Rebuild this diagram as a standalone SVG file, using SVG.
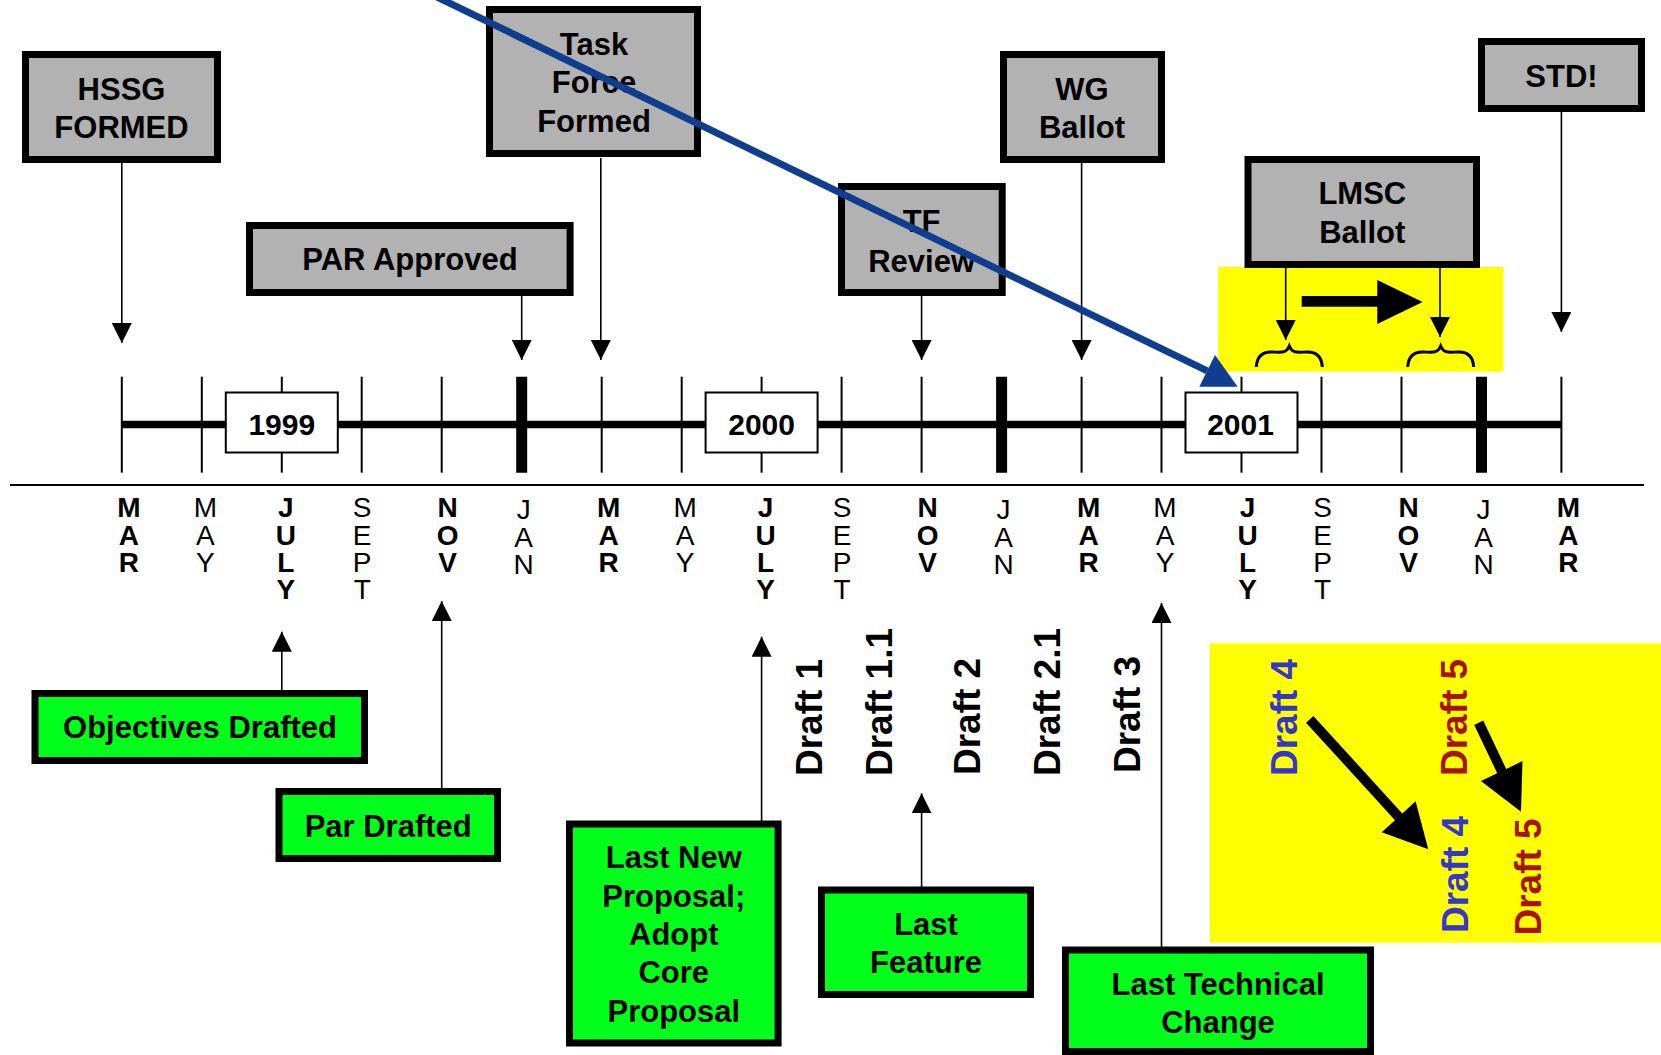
<svg xmlns="http://www.w3.org/2000/svg" width="1661" height="1055" viewBox="0 0 1661 1055">
<style>
.box{fill:#b2b2b2;stroke:#000;stroke-width:7}
.gbox{fill:#00ff1a;stroke:#000;stroke-width:7}
.bt{font-family:"Liberation Sans",Arial,sans-serif;font-weight:bold;font-size:31px;text-anchor:middle;fill:#000}
.arr{stroke:#000;stroke-width:1.6;fill:none;marker-end:url(#ah)}
.tick{stroke:#000;stroke-width:2}
.tickb{stroke:#000;stroke-width:11}
.yr{fill:#fff;stroke:#000;stroke-width:2}
.yt{font-family:"Liberation Sans",Arial,sans-serif;font-weight:bold;font-size:30px;text-anchor:middle}
.mb{font-family:"Liberation Sans",Arial,sans-serif;font-weight:bold;font-size:28px;text-anchor:middle}
.mr{font-family:"Liberation Sans",Arial,sans-serif;font-weight:normal;font-size:28px;text-anchor:middle}
.dr{font-family:"Liberation Sans",Arial,sans-serif;font-weight:bold;font-size:37px}
.brace{fill:none;stroke:#000;stroke-width:3}
</style>
<defs>
<marker id="ah" markerUnits="userSpaceOnUse" markerWidth="20" markerHeight="20" refX="20" refY="10" orient="auto" viewBox="0 0 20 20"><path d="M0,0 L20,10 L0,20 z" fill="#000"/></marker>
</defs>

<g id="highlights">
<rect x="1218.3" y="267" width="285" height="104.7" fill="#ffff00"/>
<rect x="1210" y="643.3" width="451" height="299.4" fill="#ffff00"/>
</g>

<g id="timeline">
<line x1="10" y1="485" x2="1644" y2="485" stroke="#000" stroke-width="2.2"/>
<line x1="121.8" y1="424.6" x2="1561.4" y2="424.6" stroke="#000" stroke-width="7.5"/>
<line class="tick" x1="121.8" y1="376.7" x2="121.8" y2="472.7"/>
<line class="tick" x1="201.8" y1="376.7" x2="201.8" y2="472.7"/>
<line class="tick" x1="281.8" y1="376.7" x2="281.8" y2="472.7"/>
<line class="tick" x1="361.7" y1="376.7" x2="361.7" y2="472.7"/>
<line class="tick" x1="441.7" y1="376.7" x2="441.7" y2="472.7"/>
<line class="tickb" x1="521.7" y1="376.7" x2="521.7" y2="472.7"/>
<line class="tick" x1="601.7" y1="376.7" x2="601.7" y2="472.7"/>
<line class="tick" x1="681.7" y1="376.7" x2="681.7" y2="472.7"/>
<line class="tick" x1="761.6" y1="376.7" x2="761.6" y2="472.7"/>
<line class="tick" x1="841.6" y1="376.7" x2="841.6" y2="472.7"/>
<line class="tick" x1="921.6" y1="376.7" x2="921.6" y2="472.7"/>
<line class="tickb" x1="1001.6" y1="376.7" x2="1001.6" y2="472.7"/>
<line class="tick" x1="1081.6" y1="376.7" x2="1081.6" y2="472.7"/>
<line class="tick" x1="1161.5" y1="376.7" x2="1161.5" y2="472.7"/>
<line class="tick" x1="1241.5" y1="376.7" x2="1241.5" y2="472.7"/>
<line class="tick" x1="1321.5" y1="376.7" x2="1321.5" y2="472.7"/>
<line class="tick" x1="1401.5" y1="376.7" x2="1401.5" y2="472.7"/>
<line class="tickb" x1="1481.5" y1="376.7" x2="1481.5" y2="472.7"/>
<line class="tick" x1="1561.4" y1="376.7" x2="1561.4" y2="472.7"/>
</g>

<g id="year-1999"><rect class="yr" x="225.8" y="392.5" width="112" height="60"/><text class="yt" x="281.8" y="435">1999</text></g>
<g id="year-2000"><rect class="yr" x="705.6" y="392.5" width="112" height="60"/><text class="yt" x="761.6" y="435">2000</text></g>
<g id="year-2001"><rect class="yr" x="1185.5" y="392.5" width="112" height="60"/><text class="yt" x="1240.5" y="435">2001</text></g>

<g id="months">
<text class="mb" x="128.8" y="517.3"><tspan x="128.8">M</tspan><tspan x="128.8" dy="27.3">A</tspan><tspan x="128.8" dy="27.3">R</tspan></text>
<text class="mr" x="205.3" y="517.3"><tspan x="205.3">M</tspan><tspan x="205.3" dy="27.3">A</tspan><tspan x="205.3" dy="27.3">Y</tspan></text>
<text class="mb" x="285.8" y="517.3"><tspan x="285.8">J</tspan><tspan x="285.8" dy="27.3">U</tspan><tspan x="285.8" dy="27.3">L</tspan><tspan x="285.8" dy="27.3">Y</tspan></text>
<text class="mr" x="362.2" y="517.3"><tspan x="362.2">S</tspan><tspan x="362.2" dy="27.3">E</tspan><tspan x="362.2" dy="27.3">P</tspan><tspan x="362.2" dy="27.3">T</tspan></text>
<text class="mb" x="447.7" y="517.3"><tspan x="447.7">N</tspan><tspan x="447.7" dy="27.3">O</tspan><tspan x="447.7" dy="27.3">V</tspan></text>
<text class="mr" x="523.7" y="519.3"><tspan x="523.7">J</tspan><tspan x="523.7" dy="27.3">A</tspan><tspan x="523.7" dy="27.3">N</tspan></text>
<text class="mb" x="608.7" y="517.3"><tspan x="608.7">M</tspan><tspan x="608.7" dy="27.3">A</tspan><tspan x="608.7" dy="27.3">R</tspan></text>
<text class="mr" x="685.2" y="517.3"><tspan x="685.2">M</tspan><tspan x="685.2" dy="27.3">A</tspan><tspan x="685.2" dy="27.3">Y</tspan></text>
<text class="mb" x="765.6" y="517.3"><tspan x="765.6">J</tspan><tspan x="765.6" dy="27.3">U</tspan><tspan x="765.6" dy="27.3">L</tspan><tspan x="765.6" dy="27.3">Y</tspan></text>
<text class="mr" x="842.1" y="517.3"><tspan x="842.1">S</tspan><tspan x="842.1" dy="27.3">E</tspan><tspan x="842.1" dy="27.3">P</tspan><tspan x="842.1" dy="27.3">T</tspan></text>
<text class="mb" x="927.6" y="517.3"><tspan x="927.6">N</tspan><tspan x="927.6" dy="27.3">O</tspan><tspan x="927.6" dy="27.3">V</tspan></text>
<text class="mr" x="1003.6" y="519.3"><tspan x="1003.6">J</tspan><tspan x="1003.6" dy="27.3">A</tspan><tspan x="1003.6" dy="27.3">N</tspan></text>
<text class="mb" x="1088.6" y="517.3"><tspan x="1088.6">M</tspan><tspan x="1088.6" dy="27.3">A</tspan><tspan x="1088.6" dy="27.3">R</tspan></text>
<text class="mr" x="1165" y="517.3"><tspan x="1165">M</tspan><tspan x="1165" dy="27.3">A</tspan><tspan x="1165" dy="27.3">Y</tspan></text>
<text class="mb" x="1247.5" y="517.3"><tspan x="1247.5">J</tspan><tspan x="1247.5" dy="27.3">U</tspan><tspan x="1247.5" dy="27.3">L</tspan><tspan x="1247.5" dy="27.3">Y</tspan></text>
<text class="mr" x="1322.5" y="517.3"><tspan x="1322.5">S</tspan><tspan x="1322.5" dy="27.3">E</tspan><tspan x="1322.5" dy="27.3">P</tspan><tspan x="1322.5" dy="27.3">T</tspan></text>
<text class="mb" x="1408.5" y="517.3"><tspan x="1408.5">N</tspan><tspan x="1408.5" dy="27.3">O</tspan><tspan x="1408.5" dy="27.3">V</tspan></text>
<text class="mr" x="1483.5" y="519.3"><tspan x="1483.5">J</tspan><tspan x="1483.5" dy="27.3">A</tspan><tspan x="1483.5" dy="27.3">N</tspan></text>
<text class="mb" x="1568.4" y="517.3"><tspan x="1568.4">M</tspan><tspan x="1568.4" dy="27.3">A</tspan><tspan x="1568.4" dy="27.3">R</tspan></text>
</g>

<g id="connectors">
<line class="arr" x1="121.8" y1="163" x2="121.8" y2="343"/>
<line class="arr" x1="521.7" y1="296" x2="521.7" y2="360"/>
<line class="arr" x1="600.8" y1="158" x2="600.8" y2="360"/>
<line class="arr" x1="921.6" y1="296" x2="921.6" y2="360"/>
<line class="arr" x1="1081.6" y1="163" x2="1081.6" y2="360"/>
<line class="arr" x1="1561.4" y1="112" x2="1561.4" y2="332"/>
<line class="arr" x1="1285.7" y1="268" x2="1285.7" y2="340"/>
<line class="arr" x1="1440" y1="268" x2="1440" y2="337"/>
<line class="arr" x1="281.8" y1="690" x2="281.8" y2="631.7"/>
<line class="arr" x1="441.7" y1="788" x2="441.7" y2="601"/>
<line class="arr" x1="761.6" y1="821" x2="761.6" y2="636.7"/>
<line class="arr" x1="921.6" y1="887" x2="921.6" y2="793.3"/>
<line class="arr" x1="1161.5" y1="947" x2="1161.5" y2="603"/>
<path class="brace" d="M1256.3,367 C1257,356 1263,352 1271,352 C1281,352 1286,354 1289.3,346 C1292.6,354 1297.6,352 1307.6,352 C1315.6,352 1321.6,356 1322.3,367"/>
<path class="brace" d="M1407.7,367 C1408.4,356 1414.4,352 1422.4,352 C1432.4,352 1437.4,354 1440.7,346 C1444,354 1449,352 1459,352 C1467,352 1473,356 1473.7,367"/>
<polygon points="1301.7,296 1377.3,296 1377.3,280 1422.7,302 1377.3,324 1377.3,306.7 1301.7,306.7" fill="#000"/>
<polygon points="1313.4,715.9 1402.3,813.4 1415.6,801.3 1428.3,849.3 1381.7,832.3 1395.0,820.2 1306.0,722.7" fill="#000"/>
<polygon points="1483.2,720.5 1506.2,768.9 1522.5,761.1 1521,811.7 1480.9,780.9 1497.2,773.2 1474.2,724.9" fill="#000"/>
</g>

<g id="hssg"><rect class="box" x="25.5" y="54.5" width="192" height="105"/><text class="bt" x="121.5" y="100">HSSG</text><text class="bt" x="121.5" y="138">FORMED</text></g>
<g id="task-force"><rect class="box" x="489.5" y="9.5" width="208" height="144"/><text class="bt" x="594" y="54.5">Task</text><text class="bt" x="594" y="93">Force</text><text class="bt" x="594" y="131.5">Formed</text></g>
<g id="par-approved"><rect class="box" x="249.5" y="225.5" width="320.6" height="67"/><text class="bt" x="410" y="270">PAR Approved</text></g>
<g id="tf-review"><rect class="box" x="841.5" y="186.5" width="160.7" height="106"/><text class="bt" x="921.6" y="232">TF</text><text class="bt" x="921.6" y="271.5">Review</text></g>
<g id="wg-ballot"><rect class="box" x="1003.5" y="54.5" width="158" height="105"/><text class="bt" x="1082" y="99.5">WG</text><text class="bt" x="1082" y="137.7">Ballot</text></g>
<g id="lmsc-ballot"><rect class="box" x="1248" y="159.5" width="228.5" height="105"/><text class="bt" x="1362.3" y="204">LMSC</text><text class="bt" x="1362.3" y="243.3">Ballot</text></g>
<g id="std"><rect class="box" x="1481.5" y="41.5" width="160" height="67"/><text class="bt" x="1561.5" y="87.3">STD!</text></g>

<g id="objectives-drafted"><rect class="gbox" x="35" y="693.5" width="329.5" height="67"/><text class="bt" x="200" y="738">Objectives Drafted</text></g>
<g id="par-drafted"><rect class="gbox" x="279" y="791.5" width="218.5" height="67"/><text class="bt" x="388.2" y="837">Par Drafted</text></g>
<g id="last-new-proposal"><rect class="gbox" x="569.5" y="824" width="208.6" height="219"/><text class="bt" x="673.8" y="868">Last New</text><text class="bt" x="673.8" y="906.5">Proposal;</text><text class="bt" x="673.8" y="945">Adopt</text><text class="bt" x="673.8" y="983.3">Core</text><text class="bt" x="673.8" y="1021.7">Proposal</text></g>
<g id="last-feature"><rect class="gbox" x="821.5" y="890" width="209" height="104.5"/><text class="bt" x="926" y="935">Last</text><text class="bt" x="926" y="973">Feature</text></g>
<g id="last-technical-change"><rect class="gbox" x="1065.5" y="950" width="305" height="101.5"/><text class="bt" x="1218" y="995">Last Technical</text><text class="bt" x="1218" y="1032.7">Change</text></g>

<g id="drafts">
<text class="dr" transform="translate(821.7,776) rotate(-90)">Draft 1</text>
<text class="dr" transform="translate(891.7,776) rotate(-90)">Draft 1.1</text>
<text class="dr" transform="translate(980,775) rotate(-90)">Draft 2</text>
<text class="dr" transform="translate(1060,776) rotate(-90)">Draft 2.1</text>
<text class="dr" transform="translate(1140,773) rotate(-90)">Draft 3</text>
<text class="dr" fill="#3535d0" transform="translate(1296.7,776) rotate(-90)">Draft 4</text>
<text class="dr" fill="#a81200" transform="translate(1466.7,776) rotate(-90)">Draft 5</text>
<text class="dr" fill="#3535d0" transform="translate(1467.7,933) rotate(-90)">Draft 4</text>
<text class="dr" fill="#a81200" transform="translate(1540.7,935.5) rotate(-90)">Draft 5</text>
</g>

<g id="blue-pointer">
<line x1="422.5" y1="-10" x2="1207.2" y2="370.9" stroke="#0f3d8f" stroke-width="7"/>
<polygon points="1199.3,386.7 1237.7,386.7 1215,355" fill="#0f3d8f"/>
</g>
</svg>
